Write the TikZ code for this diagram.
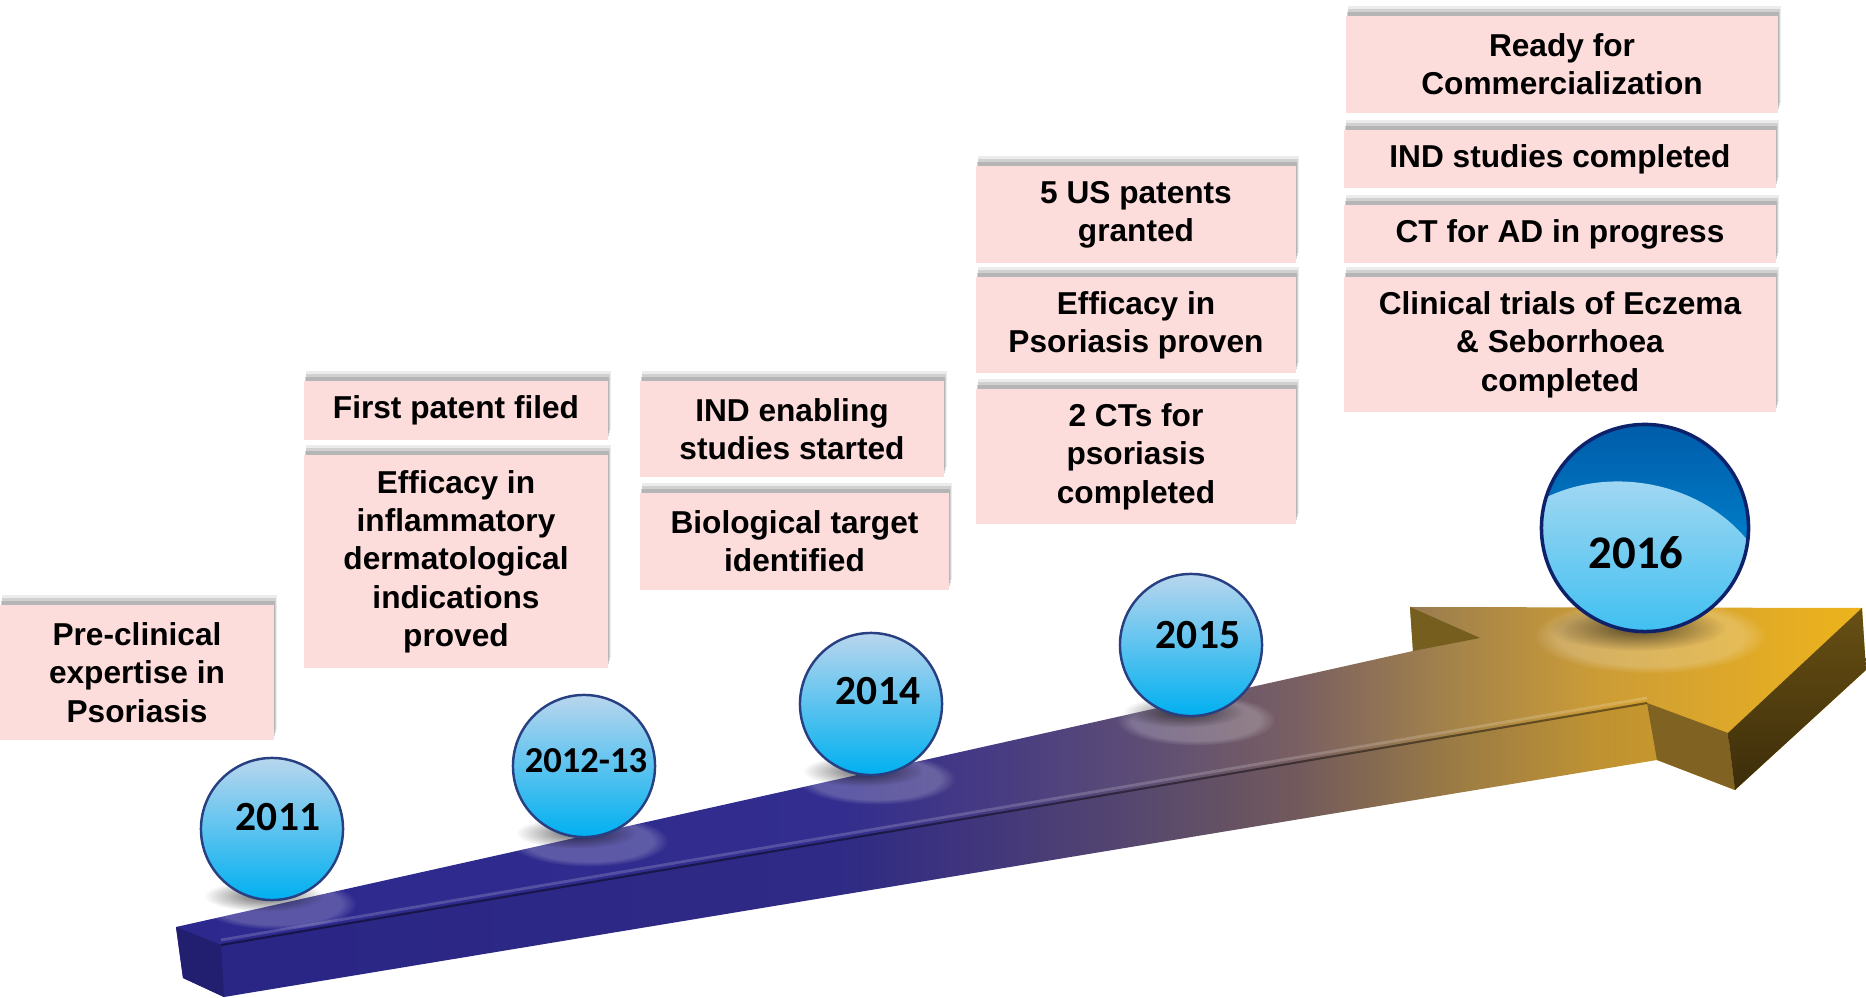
\documentclass[tikz,border=0pt]{standalone}
\usepackage{fontspec}
\setmainfont{Liberation Sans}
\newfontfamily\yearfont{Carlito}
\usetikzlibrary{shadows,fadings}

\definecolor{boxpink}{RGB}{253,220,220}
\definecolor{ballTop}{RGB}{185,214,238}
\definecolor{ballBot}{RGB}{0,176,240}
\definecolor{ballEdge}{RGB}{40,64,130}
\definecolor{capTop}{RGB}{0,92,170}
\definecolor{capBot}{RGB}{0,150,222}
\definecolor{capLight}{RGB}{196,224,242}
\definecolor{navyEdge}{RGB}{14,34,108}
\definecolor{arrNavy}{RGB}{44,40,142}
\definecolor{arrNavyB}{RGB}{50,45,142}
\definecolor{arrPurple}{RGB}{72,60,130}
\definecolor{arrMauve}{RGB}{94,78,116}
\definecolor{arrBrown}{RGB}{122,96,98}
\definecolor{arrTan}{RGB}{164,131,74}
\definecolor{arrGold}{RGB}{204,156,54}
\definecolor{arrTip}{RGB}{238,180,28}
\definecolor{barbFront}{RGB}{128,98,34}
\definecolor{barbSideTop}{RGB}{104,80,20}
\definecolor{barbSideBot}{RGB}{60,45,10}
\definecolor{barbBack}{RGB}{118,94,30}
\definecolor{shaftEnd}{RGB}{34,30,112}

% colour along the arrow, left to right
\pgfdeclarehorizontalshading{timeline}{100bp}{color(0bp)=(arrNavy); color(25bp)=(arrNavy);
  color(45bp)=(arrNavyB); color(49.8bp)=(arrPurple); color(54.1bp)=(arrMauve);
  color(58.5bp)=(arrBrown); color(62.9bp)=(arrTan); color(67.2bp)=(arrGold);
  color(75bp)=(arrTip); color(100bp)=(arrTip)}
\tikzfading[name=softspot, inner color=transparent!0, outer color=transparent!100]

\begin{document}
\begin{tikzpicture}[x=0.01cm,y=-0.01cm,
    milestone/.style={fill=boxpink, align=center, inner sep=1pt,
      font=\bfseries\fontsize{9}{10.9}\selectfont,
      drop shadow={shadow xshift=.025cm, shadow yshift=.1cm, opacity=.15},
      drop shadow={shadow xshift=.02cm, shadow yshift=.07cm, opacity=.25},
      drop shadow={shadow xshift=.01cm, shadow yshift=.04cm, opacity=.35}},
    yearball/.style={circle, minimum size=1.42cm, inner sep=0,
      top color=ballTop, bottom color=ballBot, draw=ballEdge, line width=.7pt},
    bigball/.style={circle, minimum size=2.07cm, inner sep=0,
      top color=capTop, bottom color=capBot, draw=navyEdge, line width=1pt,
      path picture={\shade[top color=capLight, bottom color=ballBot]
        ([xshift=-.2cm,yshift=-.8cm]path picture bounding box.center)
        ellipse [x radius=1.5cm, y radius=1.26cm, rotate=-8];}},
    yeartext/.style={font=\yearfont\bfseries\fontsize{11.8}{12}\selectfont}]
  \useasboundingbox (0,0) rectangle (1866,998);

  % arrow
  \begin{scope}
    \clip (176,927) -- (1413,651) -- (1410,607) -- (1862,608) -- (1866,670)
      -- (1735,790) -- (1657,760) -- (224,997) -- (183,978) -- cycle;
    \shade[shading=timeline] (150,590) rectangle (1866,1000);
    % glow round the foot of each ball
    \foreach \cx/\cy/\r in {272/829/71, 584/766/71, 871/704/71, 1191/645/71, 1645/528/104}
      \fill[white, opacity=.22, path fading=circle with fuzzy edge 20 percent]
        (\cx+5,\cy+\r+4) ellipse [x radius=\r*.0112cm, y radius=\r*.0036cm];
  \end{scope}
  \fill[barbBack] (1410,607) -- (1413,651) -- (1480,638) -- cycle;
  \fill[barbFront] (1647,703) -- (1728,733) -- (1735,790) -- (1657,760) -- cycle;
  \shade[top color=barbSideTop, bottom color=barbSideBot]
    (1862,608) -- (1866,670) -- (1735,790) -- (1728,733) -- cycle;
  \fill[shaftEnd] (176,927) -- (221,945) -- (224,997) -- (183,978) -- cycle;
  \fill[black, opacity=.06] (221,945) -- (1647,703) -- (1657,760) -- (224,997) -- cycle;
  \draw[white, opacity=.18, line width=.8pt] (221,940) -- (1647,698);
  \draw[black, opacity=.45, line width=.6pt] (221,945) -- (1647,703);

  % shadow under the balls
  \foreach \cx/\cy/\r in {272/829/71, 584/766/71, 871/704/71, 1191/645/71, 1645/528/104}
    \fill[black, opacity=.6, path fading=softspot]
      (\cx-8,\cy+\r-4) ellipse [x radius=\r*.0085cm, y radius=\r*.0022cm];

  % years
  \node[yearball] (y2011) at (272,829) {};
  \node[yearball] (y2012) at (584,766) {};
  \node[yearball] (y2014) at (871,704) {};
  \node[yearball] (y2015) at (1191,645) {};
  \node[bigball] (y2016) at (1645,528) {};
  \node[yeartext] (t2011) at ([xshift=.06cm,yshift=.12cm]y2011.center) {2011};
  \node[yeartext, font=\yearfont\bfseries\fontsize{10.4}{11}\selectfont]
    (t2012) at ([xshift=.02cm,yshift=.05cm]y2012.center) {2012-13};
  \node[yeartext] (t2014) at ([xshift=.07cm,yshift=.13cm]y2014.center) {2014};
  \node[yeartext] (t2015) at ([xshift=.07cm,yshift=.1cm]y2015.center) {2015};
  \node[yeartext, font=\yearfont\bfseries\fontsize{13.3}{14}\selectfont]
    (t2016) at ([xshift=-.09cm,yshift=-.25cm]y2016.center) {2016};

  % milestones
  \node[milestone, minimum width=2.74cm, minimum height=1.35cm] (m2011) at (137,672.5)
    {Pre-clinical\\expertise in\\Psoriasis};
  \node[milestone, minimum width=3.04cm, minimum height=.59cm] (m2012a) at (456,410.5)
    {First patent filed};
  \node[milestone, minimum width=3.04cm, minimum height=2.13cm] (m2012b) at (456,561.5)
    {Efficacy in\\inflammatory\\dermatological\\indications\\proved};
  \node[milestone, minimum width=3.04cm, minimum height=.96cm] (m2014a) at (792,429)
    {IND enabling\\studies started};
  \node[milestone, minimum width=3.09cm, minimum height=.97cm] (m2014b) at (794.5,541.5)
    {Biological target\\identified};
  \node[milestone, minimum width=3.2cm, minimum height=.97cm] (m2015a) at (1136,214.5)
    {5 US patents\\granted};
  \node[milestone, minimum width=3.2cm, minimum height=.96cm] (m2015b) at (1136,325)
    {Efficacy in\\Psoriasis proven};
  \node[milestone, minimum width=3.2cm, minimum height=1.35cm] (m2015c) at (1136,456.5)
    {2 CTs for\\psoriasis\\completed};
  \node[milestone, minimum width=4.32cm, minimum height=.97cm] (m2016a) at (1562,64.5)
    {Ready for\\Commercialization};
  \node[milestone, minimum width=4.32cm, minimum height=.58cm] (m2016b) at (1560,159)
    {IND studies completed};
  \node[milestone, minimum width=4.32cm, minimum height=.58cm] (m2016c) at (1560,234)
    {CT for AD in progress};
  \node[milestone, minimum width=4.32cm, minimum height=1.35cm] (m2016d) at (1560,344.5)
    {Clinical trials of Eczema\\\& Seborrhoea\\completed};
\end{tikzpicture}
\end{document}
